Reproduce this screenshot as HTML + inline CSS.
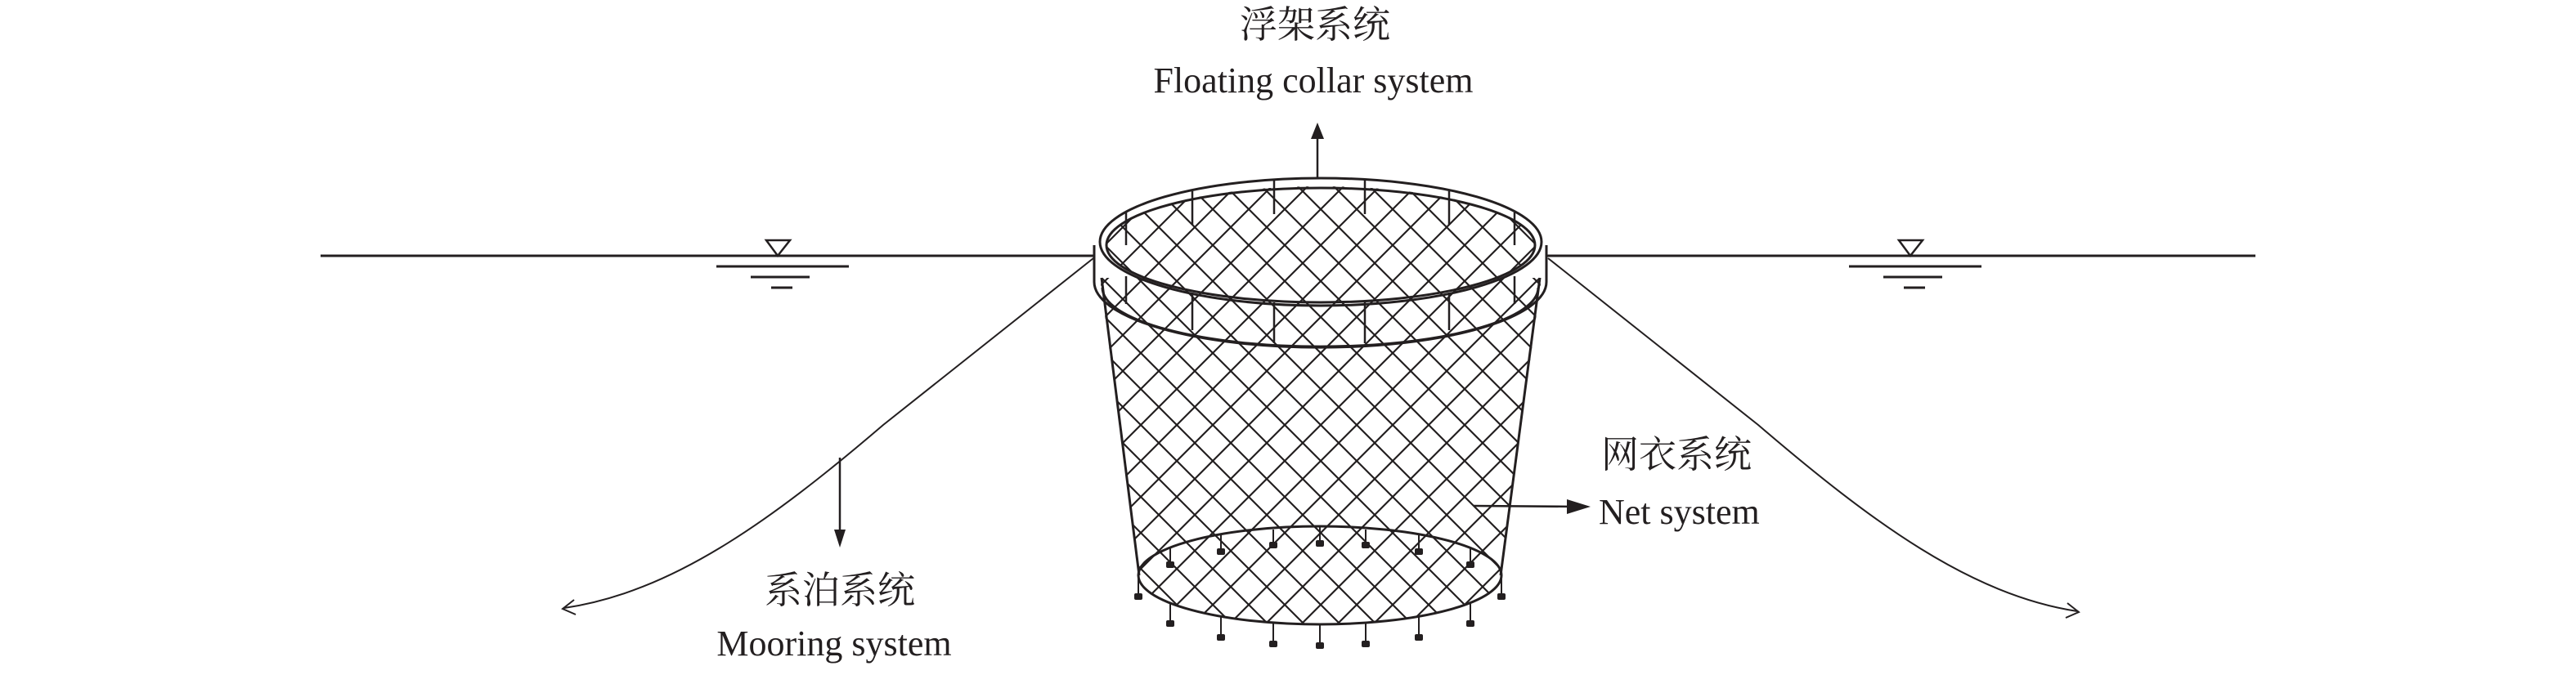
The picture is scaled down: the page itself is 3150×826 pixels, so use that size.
<!DOCTYPE html>
<html><head><meta charset="utf-8"><style>
html,body{margin:0;padding:0;background:#fff}
svg{display:block}
text{fill:#231f20}
.zh{font-family:"Liberation Serif","Noto Serif CJK SC",serif;font-size:46px}
.en{font-family:"Liberation Serif",serif;font-size:44px}
</style></head><body>
<svg width="3150" height="826" viewBox="0 0 3150 826" xmlns="http://www.w3.org/2000/svg">
<defs>
<pattern id="mesh" patternUnits="userSpaceOnUse" width="44" height="44" x="1615" y="300">
<path d="M0 0L44 44M44 0L0 44" stroke="#231f20" stroke-width="2.2" fill="none"/>
</pattern>
<clipPath id="netclip">
<ellipse cx="1615" cy="300" rx="262" ry="72"/>
<polygon points="1345,340 1885,340 1835,704 1393,704"/>
<ellipse cx="1614" cy="704" rx="222" ry="60"/>
</clipPath>
</defs>
<g stroke="#231f20" fill="none" stroke-width="3">
<line x1="392" y1="313" x2="1338" y2="313"/>
<line x1="1892" y1="313" x2="2758" y2="313"/>
<polygon points="937,294 966,294 951,313" stroke-width="2.5"/>
<line x1="876" y1="326" x2="1038" y2="326"/>
<line x1="918" y1="339" x2="990" y2="339"/>
<line x1="943" y1="352" x2="969" y2="352"/>
<polygon points="2322,294 2351,294 2336,313" stroke-width="2.5"/>
<line x1="2261" y1="326" x2="2423" y2="326"/>
<line x1="2303" y1="339" x2="2375" y2="339"/>
<line x1="2328" y1="352" x2="2354" y2="352"/>
<path d="M1337 316 L1080 520 C940 640 820 725 690 744" stroke-width="2"/>
<path d="M702 734 L688 745 L704 752" stroke-width="2"/>
<path d="M1893 316 L2150 520 C2290 640 2410 728 2540 748" stroke-width="2"/>
<path d="M2528 738 L2542 749 L2526 756" stroke-width="2"/>
</g>
<rect x="1300" y="200" width="650" height="600" fill="url(#mesh)" clip-path="url(#netclip)"/>
<g stroke="#231f20" fill="none" stroke-width="3">
<line x1="1347" y1="340" x2="1393" y2="704"/>
<line x1="1883" y1="340" x2="1835" y2="704"/>
<ellipse cx="1614" cy="704" rx="222" ry="60"/>
<ellipse cx="1615" cy="296" rx="270" ry="78"/>
<ellipse cx="1615" cy="300" rx="262" ry="70"/>
<path d="M1338 345 A276 80 0 0 0 1891 345"/>
<path d="M1348 352 A266 72 0 0 0 1881 352"/>
<path d="M1338 345 L1338 300 M1891 345 L1891 300"/>
<g stroke-width="2.5">
<line x1="1377" y1="338" x2="1377" y2="372"/>
<line x1="1458" y1="358" x2="1458" y2="404"/>
<line x1="1558" y1="370" x2="1558" y2="420"/>
<line x1="1669" y1="370" x2="1669" y2="420"/>
<line x1="1772" y1="358" x2="1772" y2="404"/>
<line x1="1852" y1="338" x2="1852" y2="372"/>
<line x1="1377" y1="260" x2="1377" y2="300"/>
<line x1="1458" y1="234" x2="1458" y2="275"/>
<line x1="1558" y1="220" x2="1558" y2="262"/>
<line x1="1669" y1="220" x2="1669" y2="262"/>
<line x1="1772" y1="234" x2="1772" y2="275"/>
<line x1="1852" y1="260" x2="1852" y2="300"/>
</g>
<g stroke-width="2">
<line x1="1392" y1="704" x2="1392" y2="727"/>
<line x1="1431" y1="738" x2="1431" y2="760"/>
<line x1="1493" y1="755" x2="1493" y2="777"/>
<line x1="1557" y1="762" x2="1557" y2="785"/>
<line x1="1614" y1="764" x2="1614" y2="787"/>
<line x1="1670" y1="762" x2="1670" y2="785"/>
<line x1="1735" y1="755" x2="1735" y2="777"/>
<line x1="1798" y1="738" x2="1798" y2="760"/>
<line x1="1836" y1="704" x2="1836" y2="727"/>
<line x1="1431" y1="670" x2="1431" y2="688"/>
<line x1="1493" y1="655" x2="1493" y2="672"/>
<line x1="1557" y1="648" x2="1557" y2="664"/>
<line x1="1614" y1="645" x2="1614" y2="662"/>
<line x1="1670" y1="648" x2="1670" y2="664"/>
<line x1="1735" y1="655" x2="1735" y2="672"/>
<line x1="1798" y1="670" x2="1798" y2="688"/>
</g>
</g>
<g fill="#231f20">
<rect x="1387" y="726" width="10" height="8" rx="2"/>
<rect x="1426" y="759" width="10" height="8" rx="2"/>
<rect x="1488" y="776" width="10" height="8" rx="2"/>
<rect x="1552" y="784" width="10" height="8" rx="2"/>
<rect x="1609" y="786" width="10" height="8" rx="2"/>
<rect x="1665" y="784" width="10" height="8" rx="2"/>
<rect x="1730" y="776" width="10" height="8" rx="2"/>
<rect x="1793" y="759" width="10" height="8" rx="2"/>
<rect x="1831" y="726" width="10" height="8" rx="2"/>
<rect x="1426" y="687" width="10" height="8" rx="2"/>
<rect x="1488" y="671" width="10" height="8" rx="2"/>
<rect x="1552" y="663" width="10" height="8" rx="2"/>
<rect x="1609" y="661" width="10" height="8" rx="2"/>
<rect x="1665" y="663" width="10" height="8" rx="2"/>
<rect x="1730" y="671" width="10" height="8" rx="2"/>
<rect x="1793" y="687" width="10" height="8" rx="2"/>
</g>
<g stroke="#231f20" stroke-width="2.5" fill="#231f20">
<line x1="1611" y1="218" x2="1611" y2="168"/>
<polygon points="1603,170 1619,170 1611,150" stroke="none"/>
<line x1="1802" y1="619" x2="1930" y2="620"/>
<polygon points="1916,611 1916,629 1945,620" stroke="none"/>
<line x1="1027" y1="560" x2="1027" y2="650"/>
<polygon points="1020,648 1034,648 1027,670" stroke="none"/>
</g>
<text class="zh" x="1608" y="46" text-anchor="middle">浮架系统</text>
<text class="en" x="1606" y="113" text-anchor="middle">Floating collar system</text>
<text class="zh" x="1958" y="572">网衣系统</text>
<text class="en" x="1955" y="641">Net system</text>
<text class="zh" x="1027" y="738" text-anchor="middle">系泊系统</text>
<text class="en" x="1020" y="802" text-anchor="middle">Mooring system</text>
</svg>
</body></html>
